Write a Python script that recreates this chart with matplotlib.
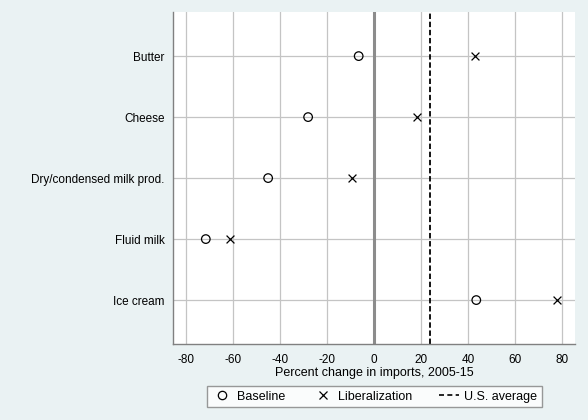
import numpy as np
from matplotlib import pyplot as plt
from matplotlib.lines import Line2D

plt.rcParams['font.family'] = ['Liberation Sans', 'DejaVu Sans']

products = ["Butter", "Cheese", "Dry/condensed milk prod.", "Fluid milk", "Ice cream"]
baseline = [-6.5, -28, -45, -71.5, 43.5]
liberalization = [43, 18.5, -9.5, -61, 78]
us_average = 23.8
xticks = [-80, -60, -40, -20, 0, 20, 40, 60, 80]

bg = '#eaf2f3'
fig = plt.figure(figsize=(5.88, 4.2), dpi=100, facecolor=bg)
ax = fig.add_axes([0.294, 0.181, 0.684, 0.79])
ax.set_facecolor('white')

ypos = np.arange(len(products))[::-1] + 1

ax.grid(True, color='#c4c4c4', lw=0.9)
ax.set_axisbelow(True)
ax.axvline(0, color='#8c8c8c', lw=2.2, zorder=1)
ax.axvline(us_average, color='black', lw=1.3, ls=(0, (3, 1.5)), zorder=2)

ax.scatter(baseline, ypos, s=38, facecolors='none', edgecolors='black', lw=0.9, zorder=3)
ax.scatter(liberalization, ypos, s=32, marker='x', color='black', lw=0.9, zorder=3)

ax.set_xlim(-85.5, 85.5)
ax.set_ylim(0.28, 5.72)
ax.set_xticks(xticks)
ax.set_xticklabels([str(t) for t in xticks])
ax.set_yticks(ypos)
ax.set_yticklabels(products)
ax.tick_params(labelsize=8.5, length=0, pad=6, colors='black')
ax.tick_params(axis='x', pad=7)
ax.set_xlabel('Percent change in imports, 2005-15', fontsize=9, labelpad=1)

for side in ['top', 'right']:
    ax.spines[side].set_visible(False)
for side in ['left', 'bottom']:
    ax.spines[side].set_color('#808080')
    ax.spines[side].set_linewidth(1.0)

handles = [
    Line2D([], [], marker='o', ls='none', mfc='none', mec='black', ms=6, mew=0.9),
    Line2D([], [], marker='x', ls='none', color='black', ms=6, mew=0.9),
    Line2D([], [], color='black', ls=(0, (3, 2)), lw=1.2),
]
labels = ['Baseline', 'Liberalization', 'U.S. average']
leg = fig.legend(handles, labels, loc='center', bbox_to_anchor=(0.637, 0.0555), ncol=3,
                 fontsize=9, frameon=True, fancybox=False, edgecolor='#808080',
                 handlelength=1.6, columnspacing=2.2, handletextpad=0.4,
                 borderpad=0.35)
leg.get_frame().set_linewidth(1.0)

fig.savefig('out.png', dpi=100, facecolor=bg)
